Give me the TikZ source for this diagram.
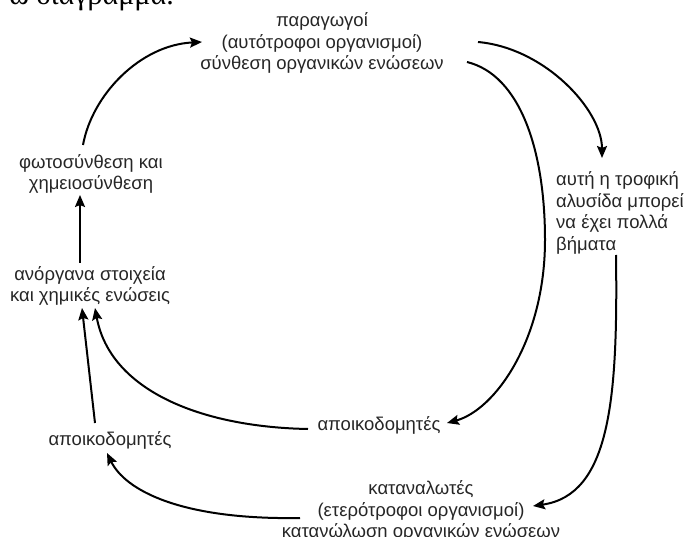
\documentclass[tikz,border=0pt]{standalone}
\usepackage{fontspec}
\setmainfont{Liberation Sans}
\newfontfamily\serifgr{Liberation Serif}
\usetikzlibrary{arrows.meta}
\definecolor{txt}{HTML}{262626}
\tikzset{
  lbl/.style={inner sep=0pt, text=txt, font=\fontsize{18.5}{21.5}\selectfont, align=center},
  lbll/.style={lbl, align=left},
  conn/.style={line width=2pt, draw=black, -{Stealth[length=12pt,width=10pt,inset=2pt]}},
}
\begin{document}
\begin{tikzpicture}[x=1pt,y=-1pt]
\useasboundingbox (0,0) rectangle (693,537);
\clip (0,0) rectangle (693,537);
\node[inner sep=0pt, anchor=base east, text=black, font=\serifgr\fontsize{30}{34}\selectfont] (frag) at (174,5) {ω διάγραμμα.};

\node[lbl] (top) at (322,43) {παραγωγοί\\(αυτότροφοι οργανισμοί)\\σύνθεση οργανικών ενώσεων};
\node[lbll, anchor=west] (chain) at (556,213) {αυτή η τροφική\\αλυσίδα μπορεί\\να έχει πολλά\\βήματα};
\node[lbl] (photo) at (91,174) {φωτοσύνθεση και\\χημειοσύνθεση};
\node[lbl] (inorg) at (90,286) {ανόργανα στοιχεία\\και χημικές ενώσεις};
\node[lbl] (dec1) at (110,440) {αποικοδομητές};
\node[lbl] (dec2) at (379,425) {αποικοδομητές};
\node[lbl] (cons) at (421,511) {καταναλωτές\\(ετερότροφοι οργανισμοί)\\κατανώλωση οργανικών ενώσεων};

% connector end points
\coordinate (p1s) at (83,145);
\coordinate (p1e) at (202,42);
\coordinate (p2s) at (478,42);
\coordinate (p2e) at (602,158);
\coordinate (p3s) at (467,62);
\coordinate (p3m) at (545,240);
\coordinate (p3e) at (447,423);
\coordinate (p4s) at (616,255);
\coordinate (p4e) at (533,506);
\coordinate (p5s) at (300,518);
\coordinate (p5e) at (107,453);
\coordinate (p6s) at (95,423);
\coordinate (p6e) at (82,308);
\coordinate (p7s) at (308,429);
\coordinate (p7e) at (95,308);
\coordinate (p8s) at (80,263);
\coordinate (p8e) at (80,195);

\draw[conn] (p1s) .. controls (92,95) and (140,45) .. (p1e);
\draw[conn] (p2s) .. controls (545,48) and (602,110) .. (p2e);
\draw[conn] (p3s) .. controls (520,75) and (545,150) .. (p3m) .. controls (545,340) and (495,410) .. (p3e);
\draw[conn] (p4s) .. controls (618,400) and (610,495) .. (p4e);
\draw[conn] (p5s) .. controls (180,520) and (125,490) .. (p5e);
\draw[conn] (p6s) -- (p6e);
\draw[conn] (p7s) .. controls (200,427) and (110,390) .. (p7e);
\draw[conn] (p8s) -- (p8e);
\end{tikzpicture}
\end{document}
